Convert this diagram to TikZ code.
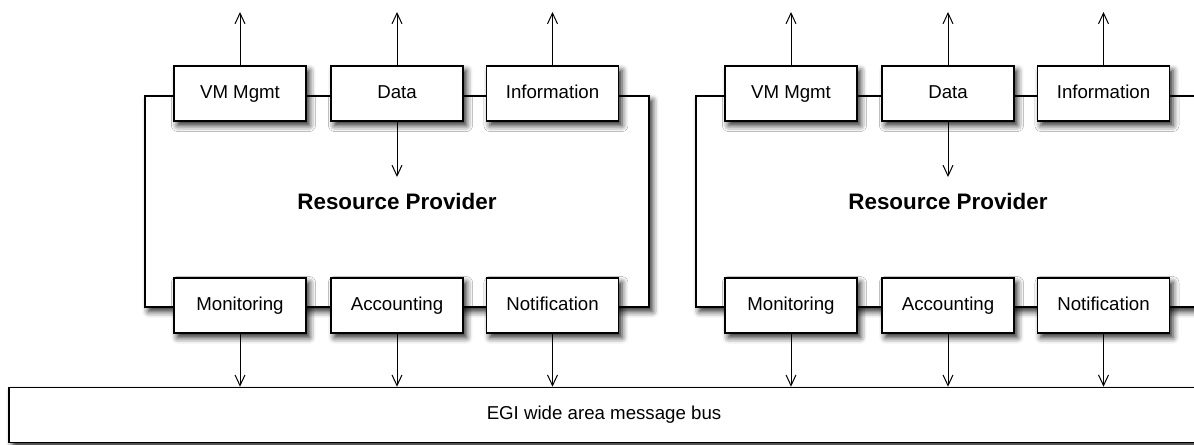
\documentclass[tikz,border=0pt]{standalone}
\usepackage{fontspec}
\setmainfont{Liberation Sans}
\usetikzlibrary{shadows.blur,arrows.meta}
\tikzset{
  sh/.style={blur shadow={shadow xshift=2.6pt, shadow yshift=-3.4pt, shadow blur radius=4.5pt, shadow opacity=85}},
  svc/.style={draw, line width=0.9pt, fill=white, sh, inner sep=0pt, minimum width=99pt, minimum height=41.25pt, text height=10pt, text depth=2.2pt, font=\fontsize{14}{16}\selectfont},
  rp/.style={draw, line width=0.9pt, fill=white, sh, inner sep=0pt, minimum width=378pt, minimum height=158.25pt, font=\fontsize{16.8}{19}\selectfont\bfseries},
  bus/.style={draw, line width=0.9pt, fill=white, sh, inner sep=0pt, minimum width=892.5pt, minimum height=41.5pt, font=\fontsize{14}{16}\selectfont},
  link/.style={-{Straight Barb[length=8pt, width=7.5pt]}, line width=0.75pt}
}
\begin{document}
\begin{tikzpicture}[x=0.75pt, y=-0.75pt]
        \useasboundingbox (0,0) rectangle (1194,444);
        \clip (0,0) rectangle (1194,444);
        % 消息总线
        \node[bus] (bus) at (604,415) {EGI wide area message bus};
        % 左边的资源提供者
        \node[rp] (rpA) at (397,201.5) {Resource Provider};
        \node[svc] (vmA) at (240,93.5) {VM Mgmt};
        \node[svc] (dataA) at (397,93.5) {Data};
        \node[svc] (infoA) at (552.5,93.5) {Information};
        \node[svc] (monA) at (240,305.5) {Monitoring};
        \node[svc] (accA) at (397,305.5) {Accounting};
        \node[svc] (notA) at (552.5,305.5) {Notification};
        % 右边的资源提供者
        \node[rp] (rpB) at (948,201.5) {Resource Provider};
        \node[svc] (vmB) at (791,93.5) {VM Mgmt};
        \node[svc] (dataB) at (948,93.5) {Data};
        \node[svc] (infoB) at (1103.5,93.5) {Information};
        \node[svc] (monB) at (791,305.5) {Monitoring};
        \node[svc] (accB) at (948,305.5) {Accounting};
        \node[svc] (notB) at (1103.5,305.5) {Notification};
        % 向上的箭头
        \coordinate (vmA-out) at (240,12);
        \coordinate (dataA-out) at (397,12);
        \coordinate (infoA-out) at (552.5,12);
        \coordinate (vmB-out) at (791,12);
        \coordinate (dataB-out) at (948,12);
        \coordinate (infoB-out) at (1103.5,12);
        \draw[link] (vmA) -- (vmA-out);
        \draw[link] (dataA) -- (dataA-out);
        \draw[link] (infoA) -- (infoA-out);
        \draw[link] (vmB) -- (vmB-out);
        \draw[link] (dataB) -- (dataB-out);
        \draw[link] (infoB) -- (infoB-out);
        % 向下的箭头
        \coordinate (dataA-in) at (397,177);
        \coordinate (dataB-in) at (948,177);
        \draw[link] (dataA) -- (dataA-in);
        \draw[link] (dataB) -- (dataB-in);
        % 到总线的箭头
        \draw[link] (monA) -- (monA |- bus.north);
        \draw[link] (accA) -- (accA |- bus.north);
        \draw[link] (notA) -- (notA |- bus.north);
        \draw[link] (monB) -- (monB |- bus.north);
        \draw[link] (accB) -- (accB |- bus.north);
        \draw[link] (notB) -- (notB |- bus.north);
      \end{tikzpicture}
\end{document}
